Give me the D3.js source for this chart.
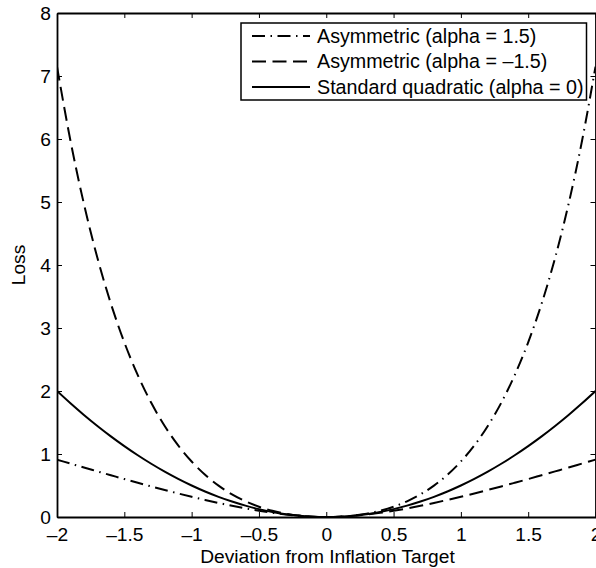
<!DOCTYPE html>
<html>
<head>
<meta charset="utf-8">
<script src="https://cdn.jsdelivr.net/npm/d3@7"></script>
<style>
  html, body { margin: 0; padding: 0; background: #fff; }
  svg { display: block; }
  text { font-family: "Liberation Sans", Arial, Helvetica, sans-serif; fill: #000; }
</style>
</head>
<body>
<svg id="chart" width="596" height="568"></svg>
<script>
// ---- Data ----
const deviation = [-2.0,-1.9,-1.8,-1.7,-1.6,-1.5,-1.4,-1.3,-1.2,-1.1,-1.0,-0.9,-0.8,-0.7,-0.6,-0.5,-0.4,-0.3,-0.2,-0.1,0,
                   0.1,0.2,0.3,0.4,0.5,0.6,0.7,0.8,0.9,1.0,1.1,1.2,1.3,1.4,1.5,1.6,1.7,1.8,1.9,2.0];
const lossAlphaPos = [0.911,0.848,0.785,0.724,0.663,0.602,0.543,0.485,0.429,0.374,0.321,0.271,0.223,0.178,0.136,0.099,0.066,0.039,0.018,0.005,0,
                      0.005,0.022,0.053,0.099,0.163,0.249,0.359,0.498,0.670,0.881,1.136,1.444,1.813,2.252,2.772,3.388,4.114,4.969,5.972,7.149];
const lossAlphaNeg = [7.149,5.972,4.969,4.114,3.388,2.772,2.252,1.813,1.444,1.136,0.881,0.670,0.498,0.359,0.249,0.163,0.099,0.053,0.022,0.005,0,
                      0.005,0.018,0.039,0.066,0.099,0.136,0.178,0.223,0.271,0.321,0.374,0.429,0.485,0.543,0.602,0.663,0.724,0.785,0.848,0.911];
const lossQuadratic = [2.000,1.805,1.620,1.445,1.280,1.125,0.980,0.845,0.720,0.605,0.500,0.405,0.320,0.245,0.180,0.125,0.080,0.045,0.020,0.005,0,
                       0.005,0.020,0.045,0.080,0.125,0.180,0.245,0.320,0.405,0.500,0.605,0.720,0.845,0.980,1.125,1.280,1.445,1.620,1.805,2.000];
const seriesNames = ["Asymmetric (alpha = 1.5)", "Asymmetric (alpha = \u20131.5)", "Standard quadratic (alpha = 0)"];
const xTicks = [-2,-1.5,-1,-0.5,0,0.5,1,1.5,2];
const yTicks = [0,1,2,3,4,5,6,7,8];
const xLabel = "Deviation from Inflation Target";
const yLabel = "Loss";

// ---- Layout ----
const W = 596, H = 568;
const L = 57, R = 595.5, T = 13, B = 517;
const FS = 19.2;
const svg = d3.select("#chart");
svg.append("rect").attr("width", W).attr("height", H).attr("fill", "#fff");

const x = d3.scaleLinear().domain([-2, 2]).range([L, R]);
const y = d3.scaleLinear().domain([0, 8]).range([B, T]);

const fmt = v => (v < 0 ? "\u2013" : "") + String(Math.abs(v));

svg.append("clipPath").attr("id", "clip").append("rect")
  .attr("x", L).attr("y", T).attr("width", R - L).attr("height", B - T);

const series = [
  { name: seriesNames[0], values: lossAlphaPos, dash: "13,5.5,1.5,5.5" },
  { name: seriesNames[1], values: lossAlphaNeg, dash: "14,6.5" },
  { name: seriesNames[2], values: lossQuadratic, dash: null }
];

const line = d3.line().x((d, i) => x(deviation[i])).y(d => y(d)).curve(d3.curveMonotoneX);

const g = svg.append("g").attr("clip-path", "url(#clip)");
series.forEach(s => {
  g.append("path").datum(s.values)
    .attr("d", line)
    .attr("fill", "none")
    .attr("stroke", "#000")
    .attr("stroke-width", 2)
    .attr("stroke-dasharray", s.dash);
});

// axes (box with inward ticks)
const tickLen = 5;
const axB = svg.append("g").attr("transform", `translate(0,${B})`)
  .call(d3.axisBottom(x).tickValues(xTicks).tickSizeInner(-tickLen).tickSizeOuter(0).tickPadding(8).tickFormat(fmt));
const axT = svg.append("g").attr("transform", `translate(0,${T})`)
  .call(d3.axisTop(x).tickValues(xTicks).tickSizeInner(-tickLen).tickSizeOuter(0).tickFormat(""));
const axL = svg.append("g").attr("transform", `translate(${L},0)`)
  .call(d3.axisLeft(y).tickValues(yTicks).tickSizeInner(-tickLen).tickSizeOuter(0).tickPadding(6).tickFormat(fmt));
const axR = svg.append("g").attr("transform", `translate(${R},0)`)
  .call(d3.axisRight(y).tickValues(yTicks).tickSizeInner(-tickLen).tickSizeOuter(0).tickFormat(""));

[axB, axT, axL, axR].forEach(a => {
  a.select(".domain").attr("stroke", "#000").attr("stroke-width", 1.8);
  a.selectAll(".tick line").attr("stroke", "#000").attr("stroke-width", 1);
  a.selectAll("text").attr("font-size", FS).attr("font-family", '"Liberation Sans", Arial, sans-serif').attr("fill", "#000");
});
axB.selectAll("text").attr("dy", "0.71em").attr("y", 10);

// axis labels
svg.append("text").attr("x", 327.5).attr("y", 563).attr("text-anchor", "middle")
  .attr("font-size", FS).text(xLabel);
svg.append("text").attr("transform", `translate(25,${(T + B) / 2}) rotate(-90)`)
  .attr("text-anchor", "middle").attr("font-size", FS).text(yLabel);

// legend
const lg = svg.append("g");
lg.append("rect").attr("x", 241).attr("y", 23).attr("width", 345.5).attr("height", 77)
  .attr("fill", "#fff").attr("stroke", "#000").attr("stroke-width", 1.5);
const rowY = d3.scalePoint().domain(seriesNames).range([36, 87]);
series.forEach(s => {
  const yy = rowY(s.name);
  lg.append("line").attr("x1", 252).attr("x2", 310).attr("y1", yy).attr("y2", yy)
    .attr("stroke", "#000").attr("stroke-width", 2).attr("stroke-dasharray", s.dash);
  lg.append("text").attr("x", 317).attr("y", yy).attr("dy", "0.35em")
    .attr("font-size", 19.7).text(s.name);
});
</script>
</body>
</html>
